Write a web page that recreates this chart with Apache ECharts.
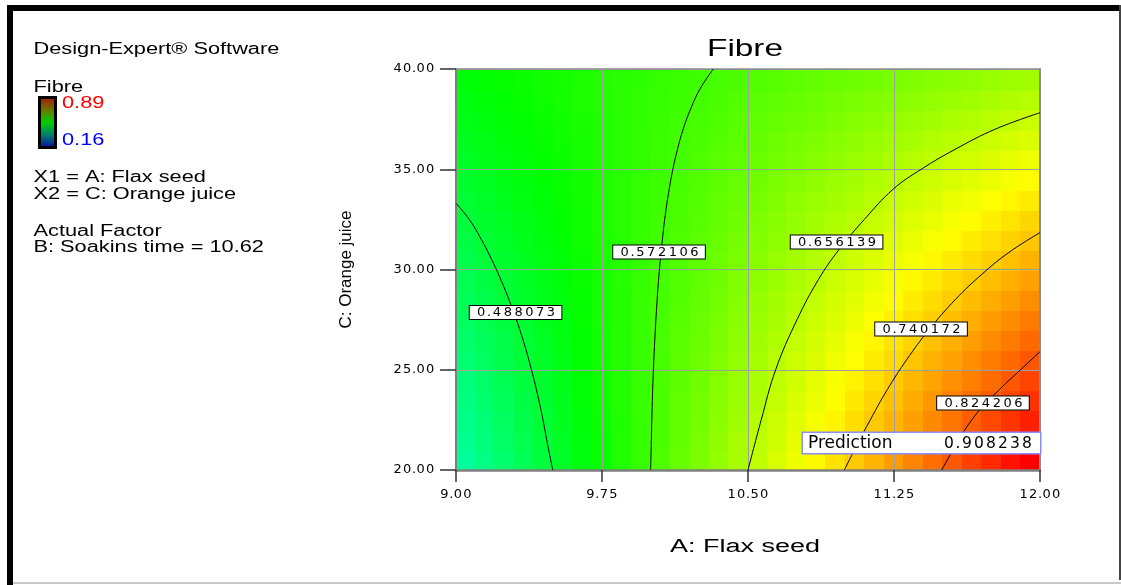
<!DOCTYPE html>
<html>
<head>
<meta charset="utf-8">
<title>Fibre</title>
<script src="https://cdn.jsdelivr.net/npm/echarts@6/dist/echarts.min.js"></script>
<style>
  html, body { margin: 0; padding: 0; background: #fff; }
  #chart { width: 1121px; height: 585px; }
</style>
</head>
<body>
<div id="chart"></div>
<script>
// A: Flax seed, centre of each predicted cell
const flaxSeed = [9.05, 9.15, 9.25, 9.35, 9.45, 9.55, 9.65, 9.75, 9.85, 9.95,
                  10.05, 10.15, 10.25, 10.35, 10.45, 10.55, 10.65, 10.75, 10.85, 10.95,
                  11.05, 11.15, 11.25, 11.35, 11.45, 11.55, 11.65, 11.75, 11.85, 11.95];
// C: Orange juice, centre of each predicted cell (bottom to top)
const orangeJuice = [20.5, 21.5, 22.5, 23.5, 24.5, 25.5, 26.5, 27.5, 28.5, 29.5,
                     30.5, 31.5, 32.5, 33.5, 34.5, 35.5, 36.5, 37.5, 38.5, 39.5];
// Predicted Fibre, one row per orange juice level
const fibre = [
  [0.415,0.432,0.448,0.465,0.481,0.498,0.514,0.531,0.547,0.564,0.580,0.597,0.613,0.630,0.646,0.662,0.679,0.695,0.712,0.728,0.745,0.761,0.778,0.794,0.811,0.827,0.844,0.860,0.877,0.893],
  [0.421,0.437,0.453,0.469,0.484,0.500,0.516,0.532,0.548,0.564,0.579,0.595,0.611,0.627,0.643,0.659,0.674,0.690,0.706,0.722,0.738,0.754,0.769,0.785,0.801,0.817,0.833,0.849,0.864,0.880],
  [0.427,0.442,0.457,0.472,0.488,0.503,0.518,0.533,0.548,0.564,0.579,0.594,0.609,0.624,0.639,0.655,0.670,0.685,0.700,0.715,0.731,0.746,0.761,0.776,0.791,0.806,0.822,0.837,0.852,0.867],
  [0.433,0.447,0.462,0.476,0.491,0.505,0.520,0.534,0.549,0.563,0.578,0.593,0.607,0.622,0.636,0.651,0.665,0.680,0.694,0.709,0.723,0.738,0.752,0.767,0.781,0.796,0.811,0.825,0.840,0.854],
  [0.438,0.452,0.466,0.480,0.494,0.508,0.522,0.536,0.549,0.563,0.577,0.591,0.605,0.619,0.633,0.647,0.661,0.674,0.688,0.702,0.716,0.730,0.744,0.758,0.772,0.786,0.799,0.813,0.827,0.841],
  [0.444,0.457,0.470,0.484,0.497,0.510,0.523,0.537,0.550,0.563,0.576,0.590,0.603,0.616,0.629,0.643,0.656,0.669,0.682,0.696,0.709,0.722,0.735,0.749,0.762,0.775,0.788,0.802,0.815,0.828],
  [0.450,0.462,0.475,0.487,0.500,0.513,0.525,0.538,0.550,0.563,0.576,0.588,0.601,0.613,0.626,0.639,0.651,0.664,0.676,0.689,0.702,0.714,0.727,0.739,0.752,0.765,0.777,0.790,0.802,0.815],
  [0.455,0.467,0.479,0.491,0.503,0.515,0.527,0.539,0.551,0.563,0.575,0.587,0.599,0.611,0.623,0.635,0.646,0.658,0.670,0.682,0.694,0.706,0.718,0.730,0.742,0.754,0.766,0.778,0.790,0.802],
  [0.461,0.472,0.483,0.495,0.506,0.517,0.529,0.540,0.551,0.563,0.574,0.585,0.596,0.608,0.619,0.630,0.642,0.653,0.664,0.676,0.687,0.698,0.710,0.721,0.732,0.743,0.755,0.766,0.777,0.789],
  [0.466,0.477,0.488,0.498,0.509,0.520,0.530,0.541,0.552,0.562,0.573,0.584,0.594,0.605,0.616,0.626,0.637,0.648,0.658,0.669,0.680,0.690,0.701,0.712,0.722,0.733,0.743,0.754,0.765,0.775],
  [0.472,0.482,0.492,0.502,0.512,0.522,0.532,0.542,0.552,0.562,0.572,0.582,0.592,0.602,0.612,0.622,0.632,0.642,0.652,0.662,0.672,0.682,0.692,0.702,0.712,0.722,0.732,0.742,0.752,0.762],
  [0.477,0.487,0.496,0.506,0.515,0.524,0.534,0.543,0.552,0.562,0.571,0.580,0.590,0.599,0.609,0.618,0.627,0.637,0.646,0.655,0.665,0.674,0.683,0.693,0.702,0.711,0.721,0.730,0.740,0.749],
  [0.483,0.492,0.500,0.509,0.518,0.526,0.535,0.544,0.553,0.561,0.570,0.579,0.587,0.596,0.605,0.614,0.622,0.631,0.640,0.649,0.657,0.666,0.675,0.683,0.692,0.701,0.710,0.718,0.727,0.736],
  [0.488,0.496,0.504,0.513,0.521,0.529,0.537,0.545,0.553,0.561,0.569,0.577,0.585,0.593,0.601,0.609,0.617,0.626,0.634,0.642,0.650,0.658,0.666,0.674,0.682,0.690,0.698,0.706,0.714,0.722],
  [0.494,0.501,0.509,0.516,0.523,0.531,0.538,0.546,0.553,0.561,0.568,0.575,0.583,0.590,0.598,0.605,0.613,0.620,0.627,0.635,0.642,0.650,0.657,0.664,0.672,0.679,0.687,0.694,0.702,0.709],
  [0.499,0.506,0.513,0.519,0.526,0.533,0.540,0.547,0.553,0.560,0.567,0.574,0.580,0.587,0.594,0.601,0.608,0.614,0.621,0.628,0.635,0.641,0.648,0.655,0.662,0.669,0.675,0.682,0.689,0.696],
  [0.504,0.511,0.517,0.523,0.529,0.535,0.541,0.547,0.553,0.560,0.566,0.572,0.578,0.584,0.590,0.596,0.603,0.609,0.615,0.621,0.627,0.633,0.639,0.645,0.652,0.658,0.664,0.670,0.676,0.682],
  [0.510,0.515,0.521,0.526,0.532,0.537,0.543,0.548,0.554,0.559,0.565,0.570,0.576,0.581,0.587,0.592,0.598,0.603,0.608,0.614,0.619,0.625,0.630,0.636,0.641,0.647,0.652,0.658,0.663,0.669],
  [0.515,0.520,0.525,0.530,0.534,0.539,0.544,0.549,0.554,0.559,0.563,0.568,0.573,0.578,0.583,0.588,0.592,0.597,0.602,0.607,0.612,0.617,0.621,0.626,0.631,0.636,0.641,0.646,0.650,0.655],
  [0.520,0.525,0.529,0.533,0.537,0.541,0.545,0.550,0.554,0.558,0.562,0.566,0.571,0.575,0.579,0.583,0.587,0.592,0.596,0.600,0.604,0.608,0.612,0.617,0.621,0.625,0.629,0.633,0.638,0.642]
];

// Contour levels and their traced paths as [flax seed, orange juice]
const contourLevels = [0.488073, 0.572106, 0.656139, 0.740172, 0.824206];
const contour1 = [[9.000,33.3],[9.068,32.5],[9.130,31.5],[9.183,30.5],[9.230,29.5],[9.272,28.5],[9.310,27.5],[9.344,26.5],[9.374,25.5],[9.401,24.5],[9.425,23.5],[9.447,22.5],[9.466,21.5],[9.497,20.0]];
const contour2 = [[10.322,40.0],[10.253,39.0],[10.205,38.0],[10.167,37.0],[10.138,36.0],[10.114,35.0],[10.095,34.0],[10.079,33.0],[10.066,32.0],[10.045,30.0],[10.030,28.0],[10.014,25.0],[10.006,22.5],[10.000,20.0]];
const contour3 = [[12.0,37.82],[11.77,37.0],[11.565,36.0],[11.39,35.0],[11.245,34.0],[11.098,32.5],[10.968,31.0],[10.862,29.5],[10.752,27.5],[10.642,25.0],[10.568,22.5],[10.5,20.0]];
const contour4 = [[12.0,31.84],[11.84,30.85],[11.70,29.75],[11.565,28.5],[11.43,27.0],[11.315,25.5],[11.215,24.0],[11.128,22.5],[11.06,21.25],[10.995,20.0]];
const contour5 = [[12.0,25.9],[11.90,25.0],[11.79,24.0],[11.69,23.0],[11.614,22.0],[11.553,21.0],[11.495,20.0]];
const contourPaths = [contour1, contour2, contour3, contour4, contour5];
// Where each contour value is tagged
const contourTagFlax = [9.306, 10.043, 10.955, 11.389, 11.707];
const contourTagJuice = [27.86, 30.87, 31.37, 27.03, 23.34];

// Flagged design point
const predictionFlax = 12.0;
const predictionJuice = 20.0;
const predictionValue = 0.908238;

// Colour scale of the response
const fibreLow = 0.16;
const fibreHigh = 0.89;

// Axes
const flaxMin = 9, flaxMax = 12, flaxStep = 0.75;
const juiceMin = 20, juiceMax = 40, juiceStep = 5;

const cellW = flaxSeed[1] - flaxSeed[0];
const cellH = orangeJuice[1] - orangeJuice[0];

const cells = [];
orangeJuice.forEach(function (c, i) {
  flaxSeed.forEach(function (a, j) {
    cells.push([a, c, fibre[i][j]]);
  });
});

// Wide, evenly spaced digits as drawn by the design software
function spaced(str, d, p) {
  return str.split('').map(function (ch) {
    return ch === '.' ? '{' + p + '|.}' : '{' + d + '|' + ch + '}';
  }).join('');
}

const numFont = 'DejaVu Sans';
const txtFont = 'Liberation Sans, Arial, sans-serif';

const chart = echarts.init(document.getElementById('chart'), null, { renderer: 'canvas' });

const lineSeries = contourPaths.map(function (path, i) {
  return {
    type: 'line',
    name: 'Fibre ' + contourLevels[i],
    data: path,
    xAxisIndex: 0,
    yAxisIndex: 0,
    symbol: 'none',
    smooth: 0.4,
    silent: true,
    z: 4,
    lineStyle: { color: '#000', width: 1 }
  };
});

const tickRich = {
  d: { fontFamily: numFont, fontSize: 13, width: 9.5, align: 'center', color: '#000' },
  p: { fontFamily: numFont, fontSize: 13, width: 4, align: 'center', color: '#000' }
};

chart.setOption({
  animation: false,
  backgroundColor: '#fff',
  grid: { left: 456, top: 69, width: 584, height: 401, containLabel: false },
  visualMap: {
    type: 'continuous',
    show: false,
    min: fibreLow,
    max: fibreHigh,
    dimension: 2,
    seriesIndex: 0,
    inRange: { color: ['#0000ff', '#00ffff', '#00ff00', '#ffff00', '#ff0000'] }
  },
  xAxis: [{
    type: 'value',
    min: flaxMin, max: flaxMax, interval: flaxStep,
    position: 'bottom',
    z: 3,
    axisLine: { show: true, onZero: false, lineStyle: { color: '#808080', width: 2.5 } },
    axisTick: { show: true, length: 12, lineStyle: { color: '#333', width: 1.5 } },
    splitLine: { show: true, lineStyle: { color: '#a0a0a0', width: 1 } },
    axisLabel: {
      margin: 18,
      formatter: function (v) { return spaced(v.toFixed(2), 'd', 'p'); },
      rich: tickRich
    }
  }, {
    type: 'value',
    min: flaxMin, max: flaxMax, interval: flaxStep,
    position: 'top',
    z: 3,
    axisLine: { show: true, onZero: false, lineStyle: { color: '#8c8c8c', width: 1.5 } },
    axisTick: { show: false }, axisLabel: { show: false }, splitLine: { show: false }
  }],
  yAxis: [{
    type: 'value',
    min: juiceMin, max: juiceMax, interval: juiceStep,
    position: 'left',
    z: 3,
    name: 'C: Orange juice',
    nameLocation: 'middle',
    nameRotate: 90,
    nameGap: 101,
    nameTextStyle: { fontFamily: txtFont, fontSize: 17, color: '#000' },
    axisLine: { show: true, onZero: false, lineStyle: { color: '#808080', width: 2 } },
    axisTick: { show: true, length: 16, lineStyle: { color: '#333', width: 1.5 } },
    splitLine: { show: true, lineStyle: { color: '#a0a0a0', width: 1 } },
    axisLabel: {
      margin: 21,
      formatter: function (v) { return spaced(v.toFixed(2), 'd', 'p'); },
      rich: tickRich
    }
  }, {
    type: 'value',
    min: juiceMin, max: juiceMax, interval: juiceStep,
    position: 'right',
    z: 3,
    axisLine: { show: true, onZero: false, lineStyle: { color: '#8c8c8c', width: 2 } },
    axisTick: { show: false }, axisLabel: { show: false }, splitLine: { show: false }
  }],
  series: [{
    type: 'custom',
    name: 'Fibre',
    data: cells,
    xAxisIndex: 0,
    yAxisIndex: 0,
    clip: true,
    silent: true,
    z: 1,
    encode: { x: 0, y: 1 },
    renderItem: function (params, api) {
      const a = api.value(0), c = api.value(1);
      const p0 = api.coord([a - cellW / 2, c + cellH / 2]);
      const p1 = api.coord([a + cellW / 2, c - cellH / 2]);
      const x0 = Math.floor(p0[0]), y0 = Math.floor(p0[1]);
      return {
        type: 'rect',
        shape: { x: x0, y: y0, width: Math.ceil(p1[0]) - x0 + 1, height: Math.ceil(p1[1]) - y0 + 1 },
        style: { fill: api.visual('color') }
      };
    }
  }].concat(lineSeries).concat([{
    type: 'scatter',
    name: 'contour values',
    xAxisIndex: 0,
    yAxisIndex: 0,
    silent: true,
    z: 6,
    symbol: 'rect',
    symbolSize: 1,
    itemStyle: { color: 'rgba(0,0,0,0)', opacity: 1 },
    data: contourLevels.map(function (lv, i) { return [contourTagFlax[i], contourTagJuice[i], lv]; }),
    label: {
      show: true,
      position: 'inside',
      backgroundColor: '#fff',
      borderColor: '#000',
      borderWidth: 1,
      padding: [1, 5, 0, 6],
      formatter: function (p) { return spaced(p.value[2].toFixed(6), 'd', 'p'); },
      rich: {
        d: { fontFamily: numFont, fontSize: 13, lineHeight: 12, width: 10.8, align: 'center', color: '#000' },
        p: { fontFamily: numFont, fontSize: 13, lineHeight: 12, width: 5, align: 'center', color: '#000' }
      }
    }
  }, {
    type: 'scatter',
    name: 'Prediction',
    xAxisIndex: 0,
    yAxisIndex: 0,
    silent: true,
    z: 6,
    clip: false,
    symbol: 'rect',
    symbolSize: 1,
    itemStyle: { color: 'rgba(0,0,0,0)', opacity: 1 },
    data: [[predictionFlax, predictionJuice, predictionValue]],
    label: {
      show: true,
      position: [-236.5, -36.5],
      backgroundColor: '#fff',
      borderColor: '#8c8cff',
      borderWidth: 1.5,
      padding: [2, 7, 1, 5],
      formatter: function (p) {
        return '{n|Prediction}' + spaced(p.value[2].toFixed(6), 'd', 'p');
      },
      rich: {
        n: { fontFamily: numFont, fontSize: 17, lineHeight: 17, width: 135, align: 'left', color: '#000' },
        d: { fontFamily: numFont, fontSize: 15.5, lineHeight: 17, width: 12, align: 'center', color: '#000' },
        p: { fontFamily: numFont, fontSize: 15.5, lineHeight: 17, width: 6, align: 'center', color: '#000' }
      }
    }
  }]),
  graphic: [
    // outer frame
    { type: 'rect', shape: { x: 8, y: 5, width: 1113, height: 6 }, style: { fill: '#000' }, silent: true },
    { type: 'rect', shape: { x: 7, y: 5, width: 6, height: 580 }, style: { fill: '#000' }, silent: true },
    { type: 'rect', shape: { x: 1119, y: 5, width: 2, height: 575 }, style: { fill: '#444' }, silent: true },
    { type: 'rect', shape: { x: 13, y: 582, width: 1108, height: 2 }, style: { fill: '#c8c8c8' }, silent: true },
    // title
    { type: 'text', x: 745, y: 49, scaleX: 1.39, silent: true,
      style: { text: 'Fibre', fontFamily: txtFont, fontSize: 24, fill: '#000', align: 'center', verticalAlign: 'middle' } },
    // x axis title
    { type: 'text', x: 745, y: 547, scaleX: 1.5, silent: true,
      style: { text: 'A: Flax seed', fontFamily: txtFont, fontSize: 18, fill: '#000', align: 'center', verticalAlign: 'middle' } },
    // side notes
    { type: 'text', x: 33.5, y: 50, scaleX: 1.36, silent: true,
      style: { text: 'Design-Expert® Software', fontFamily: txtFont, fontSize: 16, fill: '#000', verticalAlign: 'middle' } },
    { type: 'text', x: 33.5, y: 88, scaleX: 1.36, silent: true,
      style: { text: 'Fibre', fontFamily: txtFont, fontSize: 16, fill: '#000', verticalAlign: 'middle' } },
    { type: 'rect', silent: true,
      shape: { x: 39.5, y: 97.5, width: 16, height: 50 },
      style: {
        stroke: '#000', lineWidth: 3,
        fill: new echarts.graphic.LinearGradient(0, 0, 0, 1, [
          { offset: 0, color: '#b01000' },
          { offset: 0.25, color: '#707000' },
          { offset: 0.5, color: '#00d000' },
          { offset: 0.75, color: '#007870' },
          { offset: 1, color: '#0000b0' }
        ])
      } },
    { type: 'text', x: 62, y: 104, scaleX: 1.36, silent: true,
      style: { text: fibreHigh.toFixed(2), fontFamily: txtFont, fontSize: 16, fill: '#ff0000', verticalAlign: 'middle' } },
    { type: 'text', x: 62, y: 141, scaleX: 1.36, silent: true,
      style: { text: fibreLow.toFixed(2), fontFamily: txtFont, fontSize: 16, fill: '#0000ff', verticalAlign: 'middle' } },
    { type: 'text', x: 33.5, y: 178, scaleX: 1.36, silent: true,
      style: { text: 'X1 = A: Flax seed', fontFamily: txtFont, fontSize: 16, fill: '#000', verticalAlign: 'middle' } },
    { type: 'text', x: 33.5, y: 195, scaleX: 1.36, silent: true,
      style: { text: 'X2 = C: Orange juice', fontFamily: txtFont, fontSize: 16, fill: '#000', verticalAlign: 'middle' } },
    { type: 'text', x: 33.5, y: 232, scaleX: 1.36, silent: true,
      style: { text: 'Actual Factor', fontFamily: txtFont, fontSize: 16, fill: '#000', verticalAlign: 'middle' } },
    { type: 'text', x: 33.5, y: 248, scaleX: 1.36, silent: true,
      style: { text: 'B: Soakins time = 10.62', fontFamily: txtFont, fontSize: 16, fill: '#000', verticalAlign: 'middle' } }
  ]
});
</script>
</body>
</html>
